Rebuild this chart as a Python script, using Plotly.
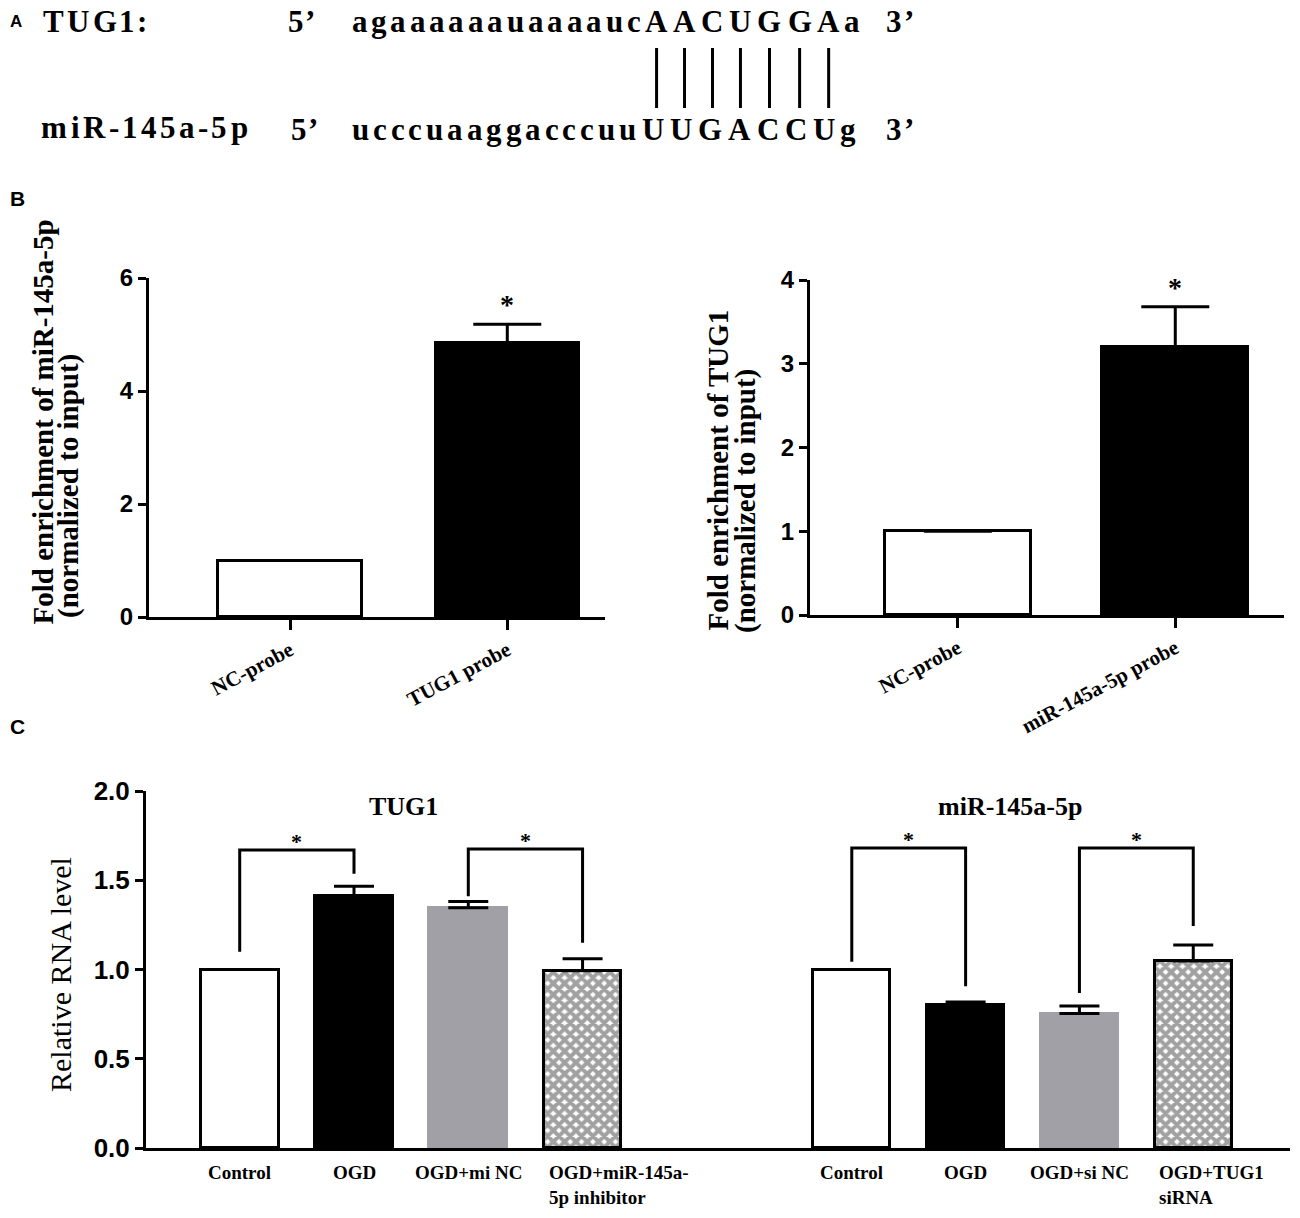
import plotly.graph_objects as go

W, H = 1300, 1218

# ---- panel A sequences
tug1_label = "TUG1:"
mir_label = "miR-145a-5p"
tug1_seq = "agaaaaaauaaaaucAACUGGAa"
mir_seq = "ucccuaaggacccuuUUGACCUg"

# ---- panel B data
b1_cats = ["NC-probe", "TUG1 probe"]
b1_vals = [1.0, 4.85]
b1_err = [None, 0.33]
b2_cats = ["NC-probe", "miR-145a-5p probe"]
b2_vals = [1.0, 3.2]
b2_err = [None, 0.48]

# ---- panel C data
c1_cats = ["Control", "OGD", "OGD+mi NC", "OGD+miR-145a-<br>5p inhibitor"]
c1_vals = [1.0, 1.41, 1.346, 0.993]
c1_err = [None, 0.057, 0.035, 0.067]
c2_cats = ["Control", "OGD", "OGD+si NC", "OGD+TUG1<br>siRNA"]
c2_vals = [1.0, 0.80, 0.753, 1.047]
c2_err = [None, 0.018, 0.043, 0.09]

# brackets: (left cat idx, right cat idx, top, left leg end, right leg end)
c1_brackets = [(0, 1, 1.67, 1.10, 1.536), (2, 3, 1.675, 1.41, 1.15)]
c2_brackets = [(0, 1, 1.68, 1.043, 0.906), (2, 3, 1.68, 0.869, 1.243)]

fills = ["white", "black", "#a0a0a6", "white"]
lines = ["black", "black", "#a0a0a6", "black"]
patterns = ["", "", "", "x"]

SERIF = "Liberation Serif"
SANS = "Liberation Sans"

# Times/Liberation Serif Bold advance widths (per 1000 em)
GLYPH_W = {"a": 500, "g": 500, "u": 556, "c": 444, "A": 722, "C": 722, "U": 722, "G": 778,
           "T": 667, "1": 500, ":": 333, "m": 833, "i": 278, "R": 722, "-": 333, "4": 500,
           "5": 500, "p": 556, "’": 333, "3": 500}


def px_x(p):
    return p / W


def px_y(p):
    return 1 - p / H


fig = go.Figure()

# B left
fig.add_trace(go.Bar(x=b1_cats, y=b1_vals, width=0.66,
                     marker=dict(color=["white", "black"], line=dict(color="black", width=3)),
                     error_y=dict(type="data", array=b1_err, arrayminus=[0, 0], symmetric=False,
                                  color="black", thickness=3, width=34),
                     xaxis="x", yaxis="y", showlegend=False))
# B right
fig.add_trace(go.Bar(x=b2_cats, y=b2_vals, width=0.67,
                     marker=dict(color=["white", "black"], line=dict(color="black", width=3)),
                     error_y=dict(type="data", array=b2_err, arrayminus=[0, 0], symmetric=False,
                                  color="black", thickness=3, width=34),
                     xaxis="x2", yaxis="y2", showlegend=False))
# C left / right
for cats, vals, err, xa in [(c1_cats, c1_vals, c1_err, "x3"), (c2_cats, c2_vals, c2_err, "x4")]:
    fig.add_trace(go.Bar(x=cats, y=vals, width=0.68,
                         marker=dict(color=fills, line=dict(color=lines, width=3),
                                     pattern=dict(shape=patterns, fgcolor="black", bgcolor="white",
                                                  size=8, solidity=0.75)),
                         error_y=dict(type="data", array=err, arrayminus=[0] * 4, symmetric=False,
                                      color="black", thickness=3, width=20),
                         xaxis=xa, yaxis="y3", showlegend=False))

for cats, brs, xa in [(c1_cats, c1_brackets, "x3"), (c2_cats, c2_brackets, "x4")]:
    for i, j, top, l_end, r_end in brs:
        fig.add_trace(go.Scatter(x=[cats[i], cats[i], cats[j], cats[j]],
                                 y=[l_end, top, top, r_end], mode="lines",
                                 line=dict(color="black", width=3),
                                 xaxis=xa, yaxis="y3", showlegend=False, hoverinfo="skip"))
        fig.add_annotation(x=(i + j) / 2, y=top, xref=xa, yref="y3", text="<b>*</b>",
                           showarrow=False, yanchor="bottom", yshift=-6,
                           font=dict(family=SERIF, size=22, color="black"))
    # category labels under the bars; the two-line label starts at the bar's left edge
    for k, lab in enumerate(cats):
        two_line = "<br>" in lab
        fig.add_annotation(x=k, y=px_y(1160), xref=xa, yref="paper", text=lab,
                           showarrow=False, yanchor="top",
                           xanchor="left" if two_line else "center",
                           align="left", xshift=-36 if two_line else 0,
                           font=dict(family=SERIF, size=19, color="black", weight="bold"))

fig.add_annotation(x=b1_cats[1], y=b1_vals[1] + b1_err[1], xref="x", yref="y", text="<b>*</b>",
                   showarrow=False, yanchor="bottom", yshift=2,
                   font=dict(family=SERIF, size=28, color="black"))
fig.add_annotation(x=b2_cats[1], y=b2_vals[1] + b2_err[1], xref="x2", yref="y2", text="<b>*</b>",
                   showarrow=False, yanchor="bottom", yshift=2,
                   font=dict(family=SERIF, size=28, color="black"))

axis_common = dict(showline=True, linecolor="black", linewidth=3, showgrid=False,
                   zeroline=False, ticks="outside", tickcolor="black", tickwidth=3,
                   automargin=False)
bold_sans = dict(family=SANS, color="black", weight="bold")
bold_serif = dict(family=SERIF, color="black", weight="bold")

fig.update_layout(
    width=W, height=H, margin=dict(l=0, r=0, t=0, b=0),
    paper_bgcolor="white", plot_bgcolor="white", bargap=0,
    xaxis=dict(axis_common, domain=[px_x(149), px_x(605)], range=[-0.65, 1.45], ticklen=10,
               tickangle=-28, tickfont=dict(bold_serif, size=21), anchor="y"),
    yaxis=dict(axis_common, domain=[px_y(617), px_y(278)], range=[0, 6], dtick=2, ticklen=8,
               tickfont=dict(bold_sans, size=24), anchor="x"),
    xaxis2=dict(axis_common, domain=[px_x(810), px_x(1284)], range=[-0.68, 1.5], ticklen=10,
                tickangle=-28, tickfont=dict(bold_serif, size=21), anchor="y2"),
    yaxis2=dict(axis_common, domain=[px_y(615), px_y(280)], range=[0, 4], dtick=1, ticklen=8,
                tickfont=dict(bold_sans, size=24), anchor="x2"),
    xaxis3=dict(axis_common, domain=[px_x(146), px_x(730)], range=[-0.82, 4.29], ticks="",
                showticklabels=False, anchor="y3"),
    xaxis4=dict(axis_common, domain=[px_x(730), px_x(1290)], range=[-1.07, 3.85], ticks="",
                showticklabels=False, anchor="y3"),
    yaxis3=dict(axis_common, domain=[px_y(1148), px_y(791)], range=[0, 2], dtick=0.5,
                tickformat=".1f", ticklen=8, anchor="x3",
                tickfont=dict(bold_sans, size=26)),
)


def txt(x, y, s, font, anchor="left", angle=0, yanchor="middle"):
    fig.add_annotation(x=px_x(x), y=px_y(y), xref="paper", yref="paper", text=s,
                       showarrow=False, xanchor=anchor, yanchor=yanchor, textangle=angle,
                       font=font)


def spaced(s, x0, x1, y, size):
    # lay glyphs out one by one so the word spans x0..x1 like the (wide) original
    total = sum(GLYPH_W[ch] for ch in s)
    em = (x1 - x0) / total
    centers = []
    cum = 0
    for ch in s:
        cx = x0 + em * (cum + GLYPH_W[ch] / 2)
        txt(cx, y, ch, dict(bold_serif, size=size), anchor="center")
        centers.append(cx)
        cum += GLYPH_W[ch]
    return centers


# panel labels
txt(8, 21, "A", dict(bold_sans, size=17))
txt(8, 198, "B", dict(bold_sans, size=21))
txt(8, 726, "C", dict(bold_sans, size=21))

# panel A text
FS = 31
spaced(tug1_label, 42, 148, 22, FS)
spaced("5’", 287, 316, 22, FS)
top_centers = spaced(tug1_seq, 350, 862, 22, FS)
spaced("3’", 885, 915, 22, FS)
spaced(mir_label, 38, 250, 127, FS)
spaced("5’", 290, 319, 130, FS)
spaced(mir_seq, 350, 858, 130, FS)
spaced("3’", 885, 915, 130, FS)
for k, ch in enumerate(tug1_seq):
    if ch.isupper():
        fig.add_shape(type="line", xref="paper", yref="paper",
                      x0=px_x(top_centers[k]), x1=px_x(top_centers[k]),
                      y0=px_y(48), y1=px_y(108), line=dict(color="black", width=3))

# axis titles (each line placed on its own, start-aligned like the original)
title_font = dict(bold_serif, size=29)
txt(42, 627, "Fold enrichment of miR-145a-5p", title_font, anchor="center", angle=-90, yanchor="bottom")
txt(68, 620, "(normalized to input)", title_font, anchor="center", angle=-90, yanchor="bottom")
txt(717, 633, "Fold enrichment of TUG1", title_font, anchor="center", angle=-90, yanchor="bottom")
txt(745, 635, "(normalized to input)", title_font, anchor="center", angle=-90, yanchor="bottom")
txt(60, 975, "Relative RNA level", dict(family=SERIF, size=30, color="black"),
    anchor="center", angle=-90)

# panel C titles
txt(404, 806, "TUG1", dict(bold_serif, size=26), anchor="center")
txt(1010, 806, "miR-145a-5p", dict(bold_serif, size=26), anchor="center")

# drop the default body margin so the figure fills the window exactly
fig.write_html("out.html", config={"displayModeBar": False},
               post_script="document.body.style.margin = '0';")
